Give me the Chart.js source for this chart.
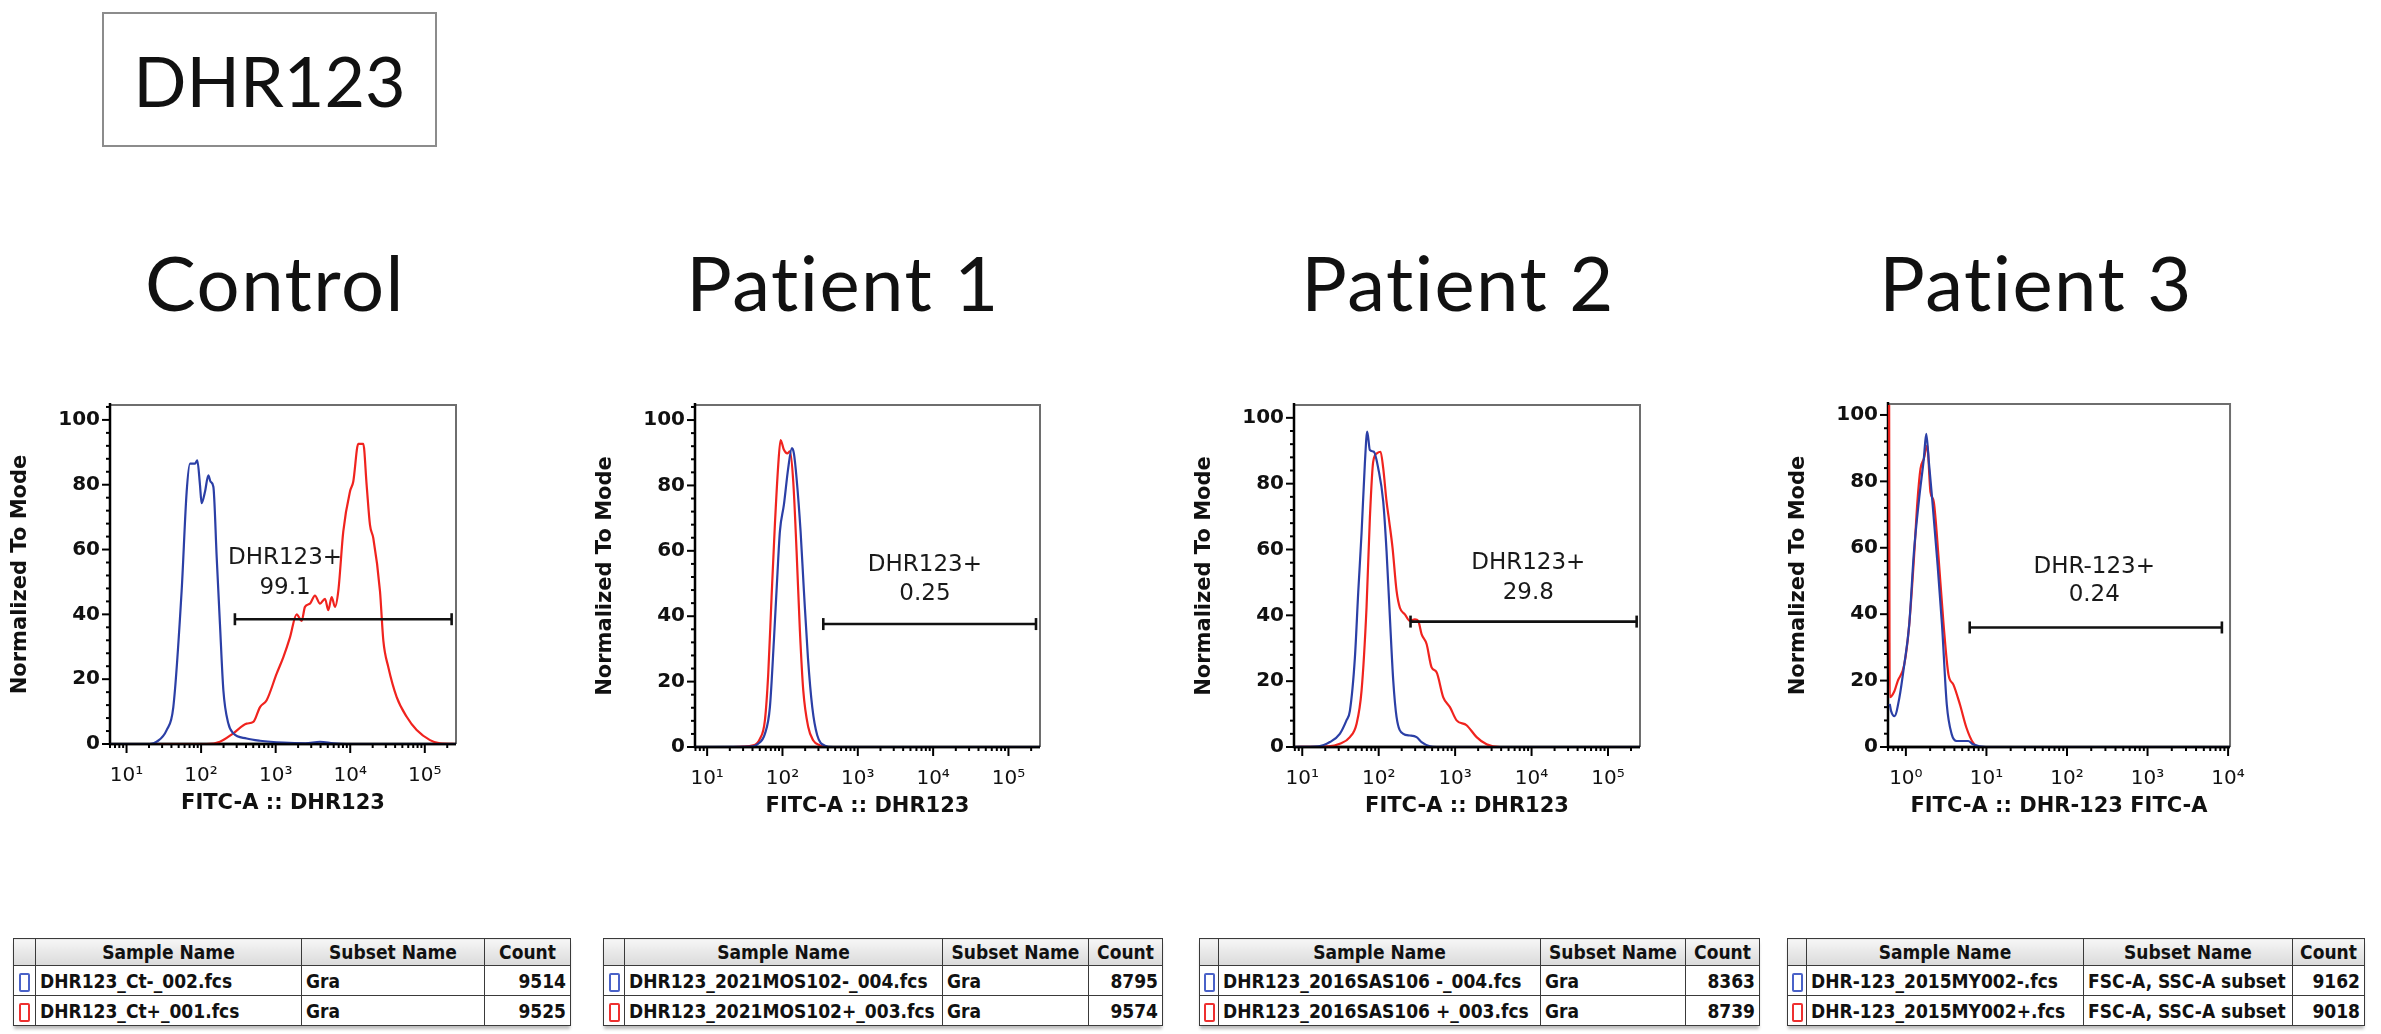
<!DOCTYPE html>
<html>
<head>
<meta charset="utf-8">
<script src="https://cdn.jsdelivr.net/npm/chart.js@4.4.0/dist/chart.umd.min.js"></script>
<style>
  body { margin: 0; background: #fff; }
  #page { position: relative; width: 2381px; height: 1034px; overflow: hidden; background: #fff; }
  .titleBox { position: absolute; left: 102px; top: 12px; width: 335px; height: 135px; box-sizing: border-box;
    border: 2px solid #8c8c8c; font-family: Lato, sans-serif; font-size: 70px; color: #111;
    display: flex; align-items: center; justify-content: center; }
  .panelTitle { position: absolute; width: 600px; text-align: center; font-family: Lato, sans-serif;
    font-size: 76px; line-height: 76px; letter-spacing: 1.5px; color: #111; white-space: nowrap; }
  canvas { position: absolute; }
  table.fj { position: absolute; border-collapse: collapse; table-layout: fixed;
    font-family: 'DejaVu Sans Condensed', 'DejaVu Sans', sans-serif; font-stretch: condensed;
    font-weight: bold; font-size: 19px; color: #111; box-shadow: 0 4px 3px -1px #bbb; }
  table.fj th, table.fj td { border: 1.5px solid #3a3a3a; padding: 0 4px; white-space: nowrap; overflow: hidden; }
  table.fj th { background: linear-gradient(#f6f6f6, #dadada); height: 26px; text-align: center; }
  table.fj td { height: 29px; background: #fff; }
  table.fj td.num { text-align: right; }
  table.fj td.box { padding: 0; text-align: center; }
  .sw { display: inline-block; width: 7px; height: 15px; border: 2px solid; border-radius: 2px; vertical-align: middle; }
</style>
</head>
<body>
<div id="page">
  <div class="titleBox">DHR123</div>
</div>
<script>
// panel titles and axis text
const panelTitles = ['Control', 'Patient 1', 'Patient 2', 'Patient 3'];
const xAxisTitles = ['FITC-A :: DHR123', 'FITC-A :: DHR123', 'FITC-A :: DHR123', 'FITC-A :: DHR-123 FITC-A'];
const yAxisTitle = 'Normalized To Mode';
const yTickValues = [0, 20, 40, 60, 80, 100];

// Control histograms (fluorescence, % of mode)
const controlBlueX = [6, 20.6, 25.4, 34.5, 42.4, 54.8, 64, 71, 82.8, 88.9, 96.6, 101.6, 112.7, 125, 134, 146, 162, 179, 199, 232, 270, 408, 617, 1268, 2500, 3936, 5940, 9000, 262144];
const controlBlueY = [0, 0, 0.7, 4.3, 11.4, 47.2, 77.8, 86.5, 86.5, 87.5, 79.9, 74.3, 77.8, 82.9, 80.9, 79.4, 57.4, 37, 16.5, 6.3, 3.3, 1.7, 1, 0.4, 0.2, 0.7, 0.2, 0, 0];
const controlRedX = [6, 119, 179, 270, 408, 501, 617, 757, 1031, 1268, 1556, 1911, 2230, 2472, 2884, 3365, 3936, 4592, 5084, 5636, 6252, 6925, 8072, 9931, 10990, 12825, 14960, 16600, 18400, 20400, 25060, 27800, 32430, 41980, 57150, 77800, 117500, 160000, 262144];
const controlRedY = [0, 0, 0.7, 3.3, 6.3, 6.8, 11.4, 13.5, 21.7, 26.8, 32.9, 40, 38, 42.3, 43.3, 45.8, 43.3, 44.8, 41.3, 45.3, 42.3, 47.3, 65.6, 77.9, 81, 92.6, 92.6, 79.9, 67.6, 63.5, 47.2, 31.9, 23.7, 14.5, 8.4, 4.3, 1.2, 0.2, 0];

// Patient 1
const p1BlueX = [6.9, 36.9, 47.6, 58.4, 68.1, 76.9, 85.2, 92.5, 104.5, 119.2, 133.3, 141.8, 153.9, 173.9, 192.6, 217.6, 248.5, 289.3, 365.8, 471.6, 262144];
const p1BlueY = [0, 0.1, 1, 4, 12.2, 32.5, 51.8, 66, 74.1, 85.3, 91.4, 89.8, 82.2, 66, 47.7, 27.4, 12.2, 3.6, 0.4, 0, 0];
const p1RedX = [6.9, 22.2, 40.9, 50.1, 58.4, 64.7, 71.6, 79.3, 87.9, 94.4, 104.5, 115.7, 125.6, 139, 153.9, 170.4, 188.8, 219.8, 256.4, 314.4, 385.5, 262144];
const p1RedY = [0, 0, 0.5, 2.5, 8.1, 22.3, 45.7, 68, 86.3, 93.9, 90.9, 89.8, 90.4, 81.2, 59.9, 35.5, 17.3, 6.1, 2, 0.5, 0, 0];

// Patient 2
const p2BlueX = [7.8, 16.2, 23, 31, 37.9, 42, 48.8, 54, 59.7, 65.9, 70.8, 76.7, 86.5, 98.6, 114.6, 126.7, 140.2, 155, 171.4, 209.5, 256, 313, 364, 468, 572, 262144];
const p2BlueY = [0, 0.2, 1.5, 4, 8.1, 11, 27, 47, 65, 86, 95.8, 90.2, 89.7, 84.7, 74.6, 59.5, 39.3, 20.2, 9.1, 4, 3.5, 3, 1.5, 0.2, 0, 0];
const p2RedX = [7.8, 21.9, 31, 42, 51.4, 59.7, 69.3, 76.7, 84.8, 95.7, 105.8, 114.6, 126.7, 137.4, 151.8, 171.4, 189.3, 220.1, 256, 297.6, 329, 364, 423.3, 492, 572, 699.6, 855, 1045, 1413, 1910, 2582, 3857, 262144];
const p2RedY = [0, 0.2, 1, 3, 7.1, 17.1, 42.3, 69.6, 86.7, 89.3, 89.7, 84.7, 74.6, 68.5, 60.5, 47.4, 42.3, 40.3, 38.3, 38.8, 38.3, 34.3, 31.3, 24.2, 22.7, 15.1, 12.1, 8.1, 6.6, 3, 0.8, 0, 0];

// Patient 3
const p3BlueX = [0.63, 0.656, 0.722, 0.83, 0.955, 1.1, 1.26, 1.46, 1.67, 1.79, 1.93, 2.12, 2.44, 2.81, 3.22, 3.71, 4.27, 5.15, 5.93, 6.82, 9.91, 10570];
const p3BlueY = [13, 10.8, 9.3, 14.8, 24.8, 36.8, 58.8, 74.8, 86.8, 94.3, 85.8, 74.8, 56.8, 36.8, 12.8, 3.8, 1.8, 1.8, 1.8, 0.8, 0, 0];
const p3RedX = [0.62, 0.63, 0.72, 0.79, 0.955, 1.1, 1.26, 1.39, 1.52, 1.67, 1.84, 2.02, 2.22, 2.55, 2.94, 3.38, 3.89, 4.69, 5.65, 6.82, 8.22, 10570];
const p3RedY = [103, 15, 16.8, 19.8, 24.8, 36.8, 56.8, 73.8, 83.8, 86.8, 90.8, 76.8, 73.8, 56.8, 36.8, 21.8, 18.8, 12.8, 5.8, 1.3, 0, 0];

// gates
const gateNames = ['DHR123+', 'DHR123+', 'DHR123+', 'DHR-123+'];
const gatePercents = ['99.1', '0.25', '29.8', '0.24'];
const gateStart = [284, 348, 261, 6.2];
const gateEnd = [229000, 232000, 237000, 8375];
const gateLevel = [38.5, 37.6, 38.1, 36];
const gateLabelX = [1334, 7780, 9060, 218];
const gateNameY = [57.4, 55.8, 55.9, 54.3];
const gatePercentY = [48.2, 46.7, 46.9, 45.8];

// sample tables
const sampleNames = [
  ['DHR123_Ct-_002.fcs', 'DHR123_Ct+_001.fcs'],
  ['DHR123_2021MOS102-_004.fcs', 'DHR123_2021MOS102+_003.fcs'],
  ['DHR123_2016SAS106 -_004.fcs', 'DHR123_2016SAS106 +_003.fcs'],
  ['DHR-123_2015MY002-.fcs', 'DHR-123_2015MY002+.fcs']
];
const subsetNames = [
  ['Gra', 'Gra'], ['Gra', 'Gra'], ['Gra', 'Gra'],
  ['FSC-A, SSC-A subset', 'FSC-A, SSC-A subset']
];
const sampleCounts = [[9514, 9525], [8795, 9574], [8363, 8739], [9162, 9018]];

const blueColor = '#2b3fa6';
const redColor = '#f0231e';
const sup = ['⁰', '¹', '²', '³', '⁴', '⁵'];

// where each plot box sits on the page
const panels = [
  { L: 110, R: 456, T: 403, B: 744, xMin: 6, xMax: 262144, yMax: 104.6, decades: [10, 100, 1e3, 1e4, 1e5], titleX: 275,
    blue: [controlBlueX, controlBlueY], red: [controlRedX, controlRedY] },
  { L: 695, R: 1040, T: 403, B: 747, xMin: 6.9, xMax: 262144, yMax: 104.6, decades: [10, 100, 1e3, 1e4, 1e5], titleX: 843,
    blue: [p1BlueX, p1BlueY], red: [p1RedX, p1RedY] },
  { L: 1294, R: 1640, T: 403, B: 747, xMin: 7.8, xMax: 262144, yMax: 103.9, decades: [10, 100, 1e3, 1e4, 1e5], titleX: 1458,
    blue: [p2BlueX, p2BlueY], red: [p2RedX, p2RedY] },
  { L: 1888, R: 2235, T: 402, B: 747, xMin: 0.62, xMax: 10570, yMax: 103.3, decades: [1, 10, 100, 1e3, 1e4], titleX: 2036,
    blue: [p3BlueX, p3BlueY], red: [p3RedX, p3RedY] }
];
const tableLayout = [
  { left: 13, cols: [22, 266, 183, 86] },
  { left: 603, cols: [21, 318, 146, 74] },
  { left: 1199, cols: [19, 322, 145, 74] },
  { left: 1787, cols: [19, 277, 209, 72] }
];

const zip = (xs, ys) => xs.map((x, i) => ({ x: x, y: ys[i] }));

function seg(ctx, x1, y1, x2, y2) {
  ctx.beginPath(); ctx.moveTo(x1, y1); ctx.lineTo(x2, y2); ctx.stroke();
}

// frame, tick marks and gate like FlowJo draws them
const flowFrame = {
  id: 'flowFrame',
  beforeDatasetsDraw(chart) {
    const { ctx, chartArea: a } = chart;
    const x = chart.scales.x, y = chart.scales.y;
    ctx.save();
    ctx.strokeStyle = '#6e6e6e'; ctx.lineWidth = 2;
    ctx.beginPath(); ctx.moveTo(a.left, a.top); ctx.lineTo(a.right, a.top); ctx.lineTo(a.right, a.bottom); ctx.stroke();
    ctx.strokeStyle = '#000'; ctx.lineWidth = 2.5;
    ctx.beginPath(); ctx.moveTo(a.left, a.top - 2); ctx.lineTo(a.left, a.bottom); ctx.lineTo(a.right, a.bottom); ctx.stroke();

    ctx.lineWidth = 2;
    for (let v = 0; v <= y.max; v += 4) {
      const py = y.getPixelForValue(v);
      seg(ctx, a.left - (v % 20 === 0 ? 8 : 4), py, a.left, py);
    }
    const e0 = Math.floor(Math.log10(x.min)), e1 = Math.ceil(Math.log10(x.max));
    for (let e = e0; e <= e1; e++) {
      for (let k = 1; k <= 9; k++) {
        const v = k * Math.pow(10, e);
        if (v < x.min || v > x.max) continue;
        const px = x.getPixelForValue(v);
        seg(ctx, px, a.bottom, px, a.bottom + (k === 1 ? 9 : 4));
      }
    }
    ctx.restore();
  },
  afterDatasetsDraw(chart, args, opts) {
    const i = opts.index;
    const { ctx, chartArea: a } = chart;
    const x = chart.scales.x, y = chart.scales.y;
    ctx.save();
    // keep the baseline axis black over the zero-level traces
    ctx.strokeStyle = 'rgba(0,0,0,0.85)'; ctx.lineWidth = 2.5;
    seg(ctx, a.left, a.bottom, a.right, a.bottom);

    // gate bar
    const gx1 = x.getPixelForValue(gateStart[i]), gx2 = x.getPixelForValue(gateEnd[i]);
    const gy = y.getPixelForValue(gateLevel[i]);
    ctx.strokeStyle = '#111'; ctx.lineWidth = 2.6;
    seg(ctx, gx1, gy, gx2, gy);
    seg(ctx, gx1, gy - 6, gx1, gy + 6);
    seg(ctx, gx2, gy - 6, gx2, gy + 6);
    ctx.fillStyle = '#1a1a1a';
    ctx.font = '23px "DejaVu Sans"';
    ctx.textAlign = 'center'; ctx.textBaseline = 'middle';
    const lx = x.getPixelForValue(gateLabelX[i]);
    ctx.fillText(gateNames[i], lx, y.getPixelForValue(gateNameY[i]));
    ctx.fillText(gatePercents[i], lx, y.getPixelForValue(gatePercentY[i]));
    ctx.restore();
  }
};

const page = document.getElementById('page');

panels.forEach((p, i) => {
  const t = document.createElement('div');
  t.className = 'panelTitle';
  t.textContent = panelTitles[i];
  t.style.left = (p.titleX - 300) + 'px';
  t.style.top = '244px';
  page.appendChild(t);

  const cv = document.createElement('canvas');
  const w = (p.R - p.L) + 140, h = (p.B - p.T) + 100;
  cv.width = w; cv.height = h;
  cv.style.width = w + 'px'; cv.style.height = h + 'px';
  cv.style.left = (p.L - 110) + 'px'; cv.style.top = (p.T - 20) + 'px';
  page.appendChild(cv);

  new Chart(cv, {
    type: 'scatter',
    data: {
      datasets: [
        { data: zip(p.blue[0], p.blue[1]), showLine: true, borderColor: blueColor, borderWidth: 2.2,
          pointRadius: 0, cubicInterpolationMode: 'monotone' },
        { data: zip(p.red[0], p.red[1]), showLine: true, borderColor: redColor, borderWidth: 2.2,
          pointRadius: 0, cubicInterpolationMode: 'monotone' }
      ]
    },
    options: {
      responsive: false,
      devicePixelRatio: 1,
      animation: false,
      layout: { padding: { left: 0, top: 20, right: 30, bottom: 0 } },
      plugins: { legend: { display: false }, tooltip: { enabled: false }, flowFrame: { index: i } },
      scales: {
        x: {
          type: 'logarithmic', min: p.xMin, max: p.xMax,
          afterBuildTicks: s => { s.ticks = p.decades.map(v => ({ value: v })); },
          afterFit: s => { s.height = 80; },
          grid: { display: false, drawTicks: false },
          border: { display: false },
          ticks: { autoSkip: false, maxRotation: 0, padding: 20, color: '#111',
            font: { family: 'DejaVu Sans', size: 20 },
            callback: v => '10' + sup[Math.round(Math.log10(v))] },
          title: { display: true, text: xAxisTitles[i], color: '#111',
            font: { family: 'DejaVu Sans', size: 21, weight: 'bold' }, padding: { top: 0, bottom: 8 } }
        },
        y: {
          type: 'linear', min: 0, max: p.yMax,
          afterBuildTicks: s => { s.ticks = yTickValues.map(v => ({ value: v })); },
          afterFit: s => { s.width = 110; },
          grid: { display: false, drawTicks: false },
          border: { display: false },
          ticks: { padding: 10, color: '#111', font: { family: 'DejaVu Sans', size: 20, weight: 'bold' } },
          title: { display: true, text: yAxisTitle, color: '#111',
            font: { family: 'DejaVu Sans', size: 21, weight: 'bold' }, padding: { top: 8, bottom: 0 } }
        }
      }
    },
    plugins: [flowFrame]
  });
});

// sample tables under each plot
tableLayout.forEach((tl, i) => {
  const tb = document.createElement('table');
  tb.className = 'fj';
  tb.style.left = tl.left + 'px';
  tb.style.top = '938px';
  let html = '<colgroup>' + tl.cols.map(c => '<col style="width:' + c + 'px">').join('') + '</colgroup>';
  html += '<tr><th></th><th>Sample Name</th><th>Subset Name</th><th>Count</th></tr>';
  ['#4a62c8', '#ee3030'].forEach((col, r) => {
    html += '<tr><td class="box"><span class="sw" style="border-color:' + col + '"></span></td>' +
      '<td>' + sampleNames[i][r] + '</td><td>' + subsetNames[i][r] + '</td>' +
      '<td class="num">' + sampleCounts[i][r] + '</td></tr>';
  });
  tb.innerHTML = html;
  tb.style.width = tl.cols.reduce((s, c) => s + c, 0) + 'px';
  page.appendChild(tb);
});
</script>
</body>
</html>
